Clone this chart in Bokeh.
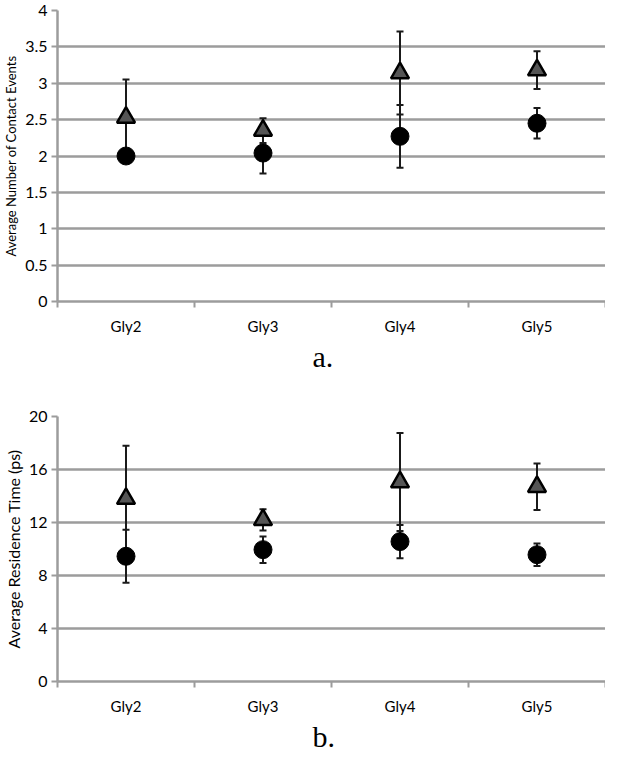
from bokeh.plotting import figure
from bokeh.models import (ColumnDataSource, Whisker, TeeHead, Range1d, FixedTicker,
                          NumeralTickFormatter)
from bokeh.layouts import column
from bokeh.embed import file_html
from bokeh.resources import INLINE

# ---------------- data ----------------
categories = ["Gly2", "Gly3", "Gly4", "Gly5"]

contact_tri = [2.53, 2.35, 3.14, 3.18]
contact_tri_err = [0.52, 0.17, 0.57, 0.26]
contact_circ = [2.00, 2.04, 2.27, 2.45]
contact_circ_err = [0.05, 0.28, 0.43, 0.21]

res_tri = [13.8, 12.2, 15.05, 14.7]
res_tri_err = [4.0, 0.8, 3.7, 1.75]
res_circ = [9.45, 9.95, 10.56, 9.57]
res_circ_err = [2.0, 1.0, 1.25, 0.85]

contact_ticks = [0, 0.5, 1, 1.5, 2, 2.5, 3, 3.5, 4]
res_ticks = [0, 4, 8, 12, 16, 20]

GRID = "#9c9c9c"
FONT = "Lato"


def make_panel(title, ylabel, label_size, ymax, yticks, tri, tri_err, circ, circ_err,
               w, h, left, top, bottom, title_offset):
    xs = [i + 0.5 for i in range(len(categories))]
    p = figure(output_backend="svg", toolbar_location=None,
               width=w, height=h,
               min_border_left=left, min_border_right=0,
               min_border_top=top, min_border_bottom=bottom,
               x_range=Range1d(0, len(categories)), y_range=Range1d(0, ymax),
               title=title, title_location="below")
    p.outline_line_color = None
    p.background_fill_color = "white"
    p.border_fill_color = "white"

    # caption below the chart
    p.title.align = "left"
    p.title.offset = title_offset
    p.title.standoff = 0
    p.title.text_font = "Liberation Serif"
    p.title.text_font_size = "30px"
    p.title.text_font_style = "normal"
    p.title.text_color = "black"

    # grid
    p.xgrid.grid_line_color = None
    p.ygrid.grid_line_color = GRID
    p.ygrid.grid_line_width = 2.5
    p.ygrid.ticker = FixedTicker(ticks=yticks)

    # x axis: labels at category centres, ticks at boundaries
    xa = p.xaxis[0]
    xa.ticker = FixedTicker(ticks=xs, minor_ticks=list(range(len(categories) + 1)))
    xa.major_label_overrides = {x: c for x, c in zip(xs, categories)}
    xa.major_tick_out = 0
    xa.major_tick_in = 0
    xa.minor_tick_out = 6
    xa.minor_tick_in = 0
    xa.minor_tick_line_color = GRID
    xa.minor_tick_line_width = 2
    xa.axis_line_color = GRID
    xa.axis_line_width = 2.5
    xa.major_label_text_font = FONT
    xa.major_label_text_font_size = "15px"
    xa.major_label_text_color = "black"
    xa.major_label_standoff = 9

    ya = p.yaxis[0]
    ya.ticker = FixedTicker(ticks=yticks)
    ya.formatter = NumeralTickFormatter(format="0.[0]")
    ya.major_tick_out = 6
    ya.major_tick_in = 0
    ya.minor_tick_line_color = None
    ya.major_tick_line_color = GRID
    ya.major_tick_line_width = 2
    ya.axis_line_color = GRID
    ya.axis_line_width = 2.5
    ya.major_label_text_font = FONT
    ya.major_label_text_font_size = "16px"
    ya.major_label_text_color = "black"
    ya.major_label_standoff = 4
    ya.axis_label = ylabel
    ya.axis_label_text_font = FONT
    ya.axis_label_text_font_size = label_size
    ya.axis_label_text_font_style = "normal"
    ya.axis_label_text_color = "black"
    ya.axis_label_standoff = 3

    tri_src = ColumnDataSource(dict(
        x=xs, y=tri,
        upper=[v + e for v, e in zip(tri, tri_err)],
        lower=[v - e for v, e in zip(tri, tri_err)]))
    circ_src = ColumnDataSource(dict(
        x=xs, y=circ,
        upper=[v + e for v, e in zip(circ, circ_err)],
        lower=[v - e for v, e in zip(circ, circ_err)]))

    for src in (tri_src, circ_src):
        wk = Whisker(source=src, base="x", upper="upper", lower="lower",
                     line_color="#1a1a1a", line_width=2, level="underlay",
                     upper_head=TeeHead(size=7, line_color="#1a1a1a", line_width=2),
                     lower_head=TeeHead(size=7, line_color="#1a1a1a", line_width=2))
        p.add_layout(wk)

    p.scatter("x", "y", source=tri_src, marker="triangle", size=18,
              fill_color="#555555", line_color="black", line_width=2.5)
    p.scatter("x", "y", source=circ_src, marker="circle", size=18,
              fill_color="black", line_color="black", line_width=1)
    return p


p1 = make_panel("a.", "Average Number of Contact Events", "13px", 4, contact_ticks,
                contact_tri, contact_tri_err, contact_circ, contact_circ_err,
                w=605, h=372, left=44, top=10, bottom=66, title_offset=255)
p2 = make_panel("b.", "Average Residence Time (ps)", "16px", 20, res_ticks,
                res_tri, res_tri_err, res_circ, res_circ_err,
                w=605, h=380, left=47, top=44, bottom=68, title_offset=255)

layout = column(p1, p2, spacing=0)
open("out.html", "w").write(file_html(layout, INLINE))
